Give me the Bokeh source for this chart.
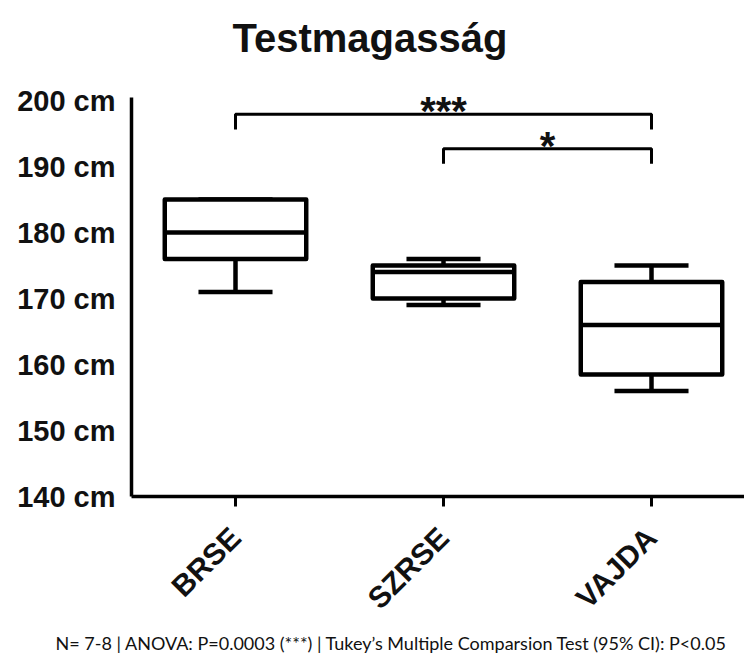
import math
from bokeh.plotting import figure
from bokeh.models import ColumnDataSource, Range1d, FixedTicker, Title
from bokeh.core.properties import value
from bokeh.embed import file_html
from bokeh.resources import INLINE

# ---- data ----
categories = ["BRSE", "SZRSE", "VAJDA"]
whisker_low = [171, 169, 156]
q1 = [176, 170, 158.5]
median = [180, 174, 166]
q3 = [185, 175, 172.5]
whisker_high = [185, 176, 175]

y_ticks = [140, 150, 160, 170, 180, 190, 200]
y_tick_labels = ["140 cm", "150 cm", "160 cm", "170 cm", "180 cm", "190 cm", "200 cm"]

comp_from = [0, 1]
comp_to = [2, 2]
comp_height = [197.9, 192.7]
comp_stars = ["***", "*"]

title_text = "Testmagasság"
footnote_text = "N= 7-8 | ANOVA: P=0.0003 (***) | Tukey\u2019s Multiple Comparsion Test (95% CI): P<0.05"

# ---- layout ----
W, H = 744, 653
LEFT, TOP, BOTTOM = 131, 8, 157
PX_PER_UNIT_X = 208.0
PX_PER_CM = 6.6
frame_w = W - LEFT
frame_h = H - TOP - BOTTOM
x0, x1 = -0.5, -0.5 + frame_w / PX_PER_UNIT_X
y0 = 140
y1 = y0 + frame_h / PX_PER_CM


def px_x(px):
    return x0 + (px - LEFT) / PX_PER_UNIT_X


def px_y(py):
    return y1 - (py - TOP) / PX_PER_CM


p = figure(width=W, height=H, output_backend="svg", toolbar_location=None,
           x_range=Range1d(x0, x1), y_range=Range1d(y0, y1),
           min_border_left=LEFT, min_border_right=0, min_border_top=TOP,
           min_border_bottom=BOTTOM)
p.outline_line_color = None
p.xgrid.visible = False
p.ygrid.visible = False
p.background_fill_color = "white"
p.border_fill_color = "white"

xs = list(range(len(categories)))
src = ColumnDataSource(dict(x=xs, lo=whisker_low, q1=q1, med=median, q3=q3, hi=whisker_high,
                            bl=[x - 0.34 for x in xs], br=[x + 0.34 for x in xs],
                            cl=[x - 0.178 for x in xs], cr=[x + 0.178 for x in xs]))

LW = 4.5
# whiskers
p.segment(x0="x", y0="q3", x1="x", y1="hi", source=src, line_color="black", line_width=LW)
p.segment(x0="x", y0="lo", x1="x", y1="q1", source=src, line_color="black", line_width=LW)
# caps
p.segment(x0="cl", y0="hi", x1="cr", y1="hi", source=src, line_color="black", line_width=LW)
p.segment(x0="cl", y0="lo", x1="cr", y1="lo", source=src, line_color="black", line_width=LW)
# boxes
p.quad(left="bl", right="br", bottom="q1", top="q3", source=src, fill_color="white",
       line_color="black", line_width=LW, line_join="round")
p.segment(x0="bl", y0="med", x1="br", y1="med", source=src, line_color="black", line_width=LW)

# significance brackets
drop = 2.3
bx = [[a, a, b, b] for a, b in zip(comp_from, comp_to)]
by = [[h - drop, h, h, h - drop] for h in comp_height]
p.multi_line(xs=bx, ys=by, line_color="black", line_width=3)
star_src = ColumnDataSource(dict(x=[(a + b) / 2 for a, b in zip(comp_from, comp_to)],
                                 y=comp_height, t=comp_stars))
p.text(x="x", y="y", text="t", source=star_src, text_align="center",
       text_baseline="alphabetic", y_offset=-3, text_font=value("Liberation Sans"),
       text_font_style="bold", text_font_size="40px", text_color="#111111")

# title (drawn in the free space above the bounded y axis)
p.text(x=[px_x(232)], y=[px_y(37)], text=[title_text], text_align="left",
       text_baseline="alphabetic", text_font=value("Liberation Sans"),
       text_font_style="bold", text_font_size="40px", text_color="#111111")

# axes
p.yaxis.ticker = FixedTicker(ticks=y_ticks)
p.yaxis.bounds = (140, 200.4)
p.yaxis.major_label_overrides = {t: l for t, l in zip(y_ticks, y_tick_labels)}
p.yaxis.major_tick_line_color = None
p.yaxis.minor_tick_line_color = None
p.yaxis.major_label_standoff = 10
p.yaxis.axis_line_width = 3.5
p.yaxis.axis_line_color = "black"
p.yaxis.major_label_text_font = "Liberation Sans"
p.yaxis.major_label_text_font_style = "bold"
p.yaxis.major_label_text_font_size = "29px"
p.yaxis.major_label_text_color = "#111111"

p.xaxis.ticker = FixedTicker(ticks=xs)
p.xaxis.major_label_overrides = {i: c for i, c in zip(xs, categories)}
p.xaxis.major_label_orientation = math.pi / 4
p.xaxis.minor_tick_line_color = None
p.xaxis.major_tick_in = 0
p.xaxis.major_tick_out = 10
p.xaxis.major_tick_line_width = 3
p.xaxis.major_tick_line_color = "black"
p.xaxis.major_label_standoff = 26
p.xaxis.axis_line_width = 3.5
p.xaxis.axis_line_color = "black"
p.xaxis.major_label_text_font = "Liberation Sans"
p.xaxis.major_label_text_font_style = "bold"
p.xaxis.major_label_text_font_size = "30px"
p.xaxis.major_label_text_color = "#111111"

# footnote
p.add_layout(Title(text=footnote_text, align="left", offset=-76, standoff=0,
                   text_font="Lato", text_font_style="normal",
                   text_font_size="18px", text_color="#111111"), "below")

open("out.html", "w").write(file_html(p, INLINE))
